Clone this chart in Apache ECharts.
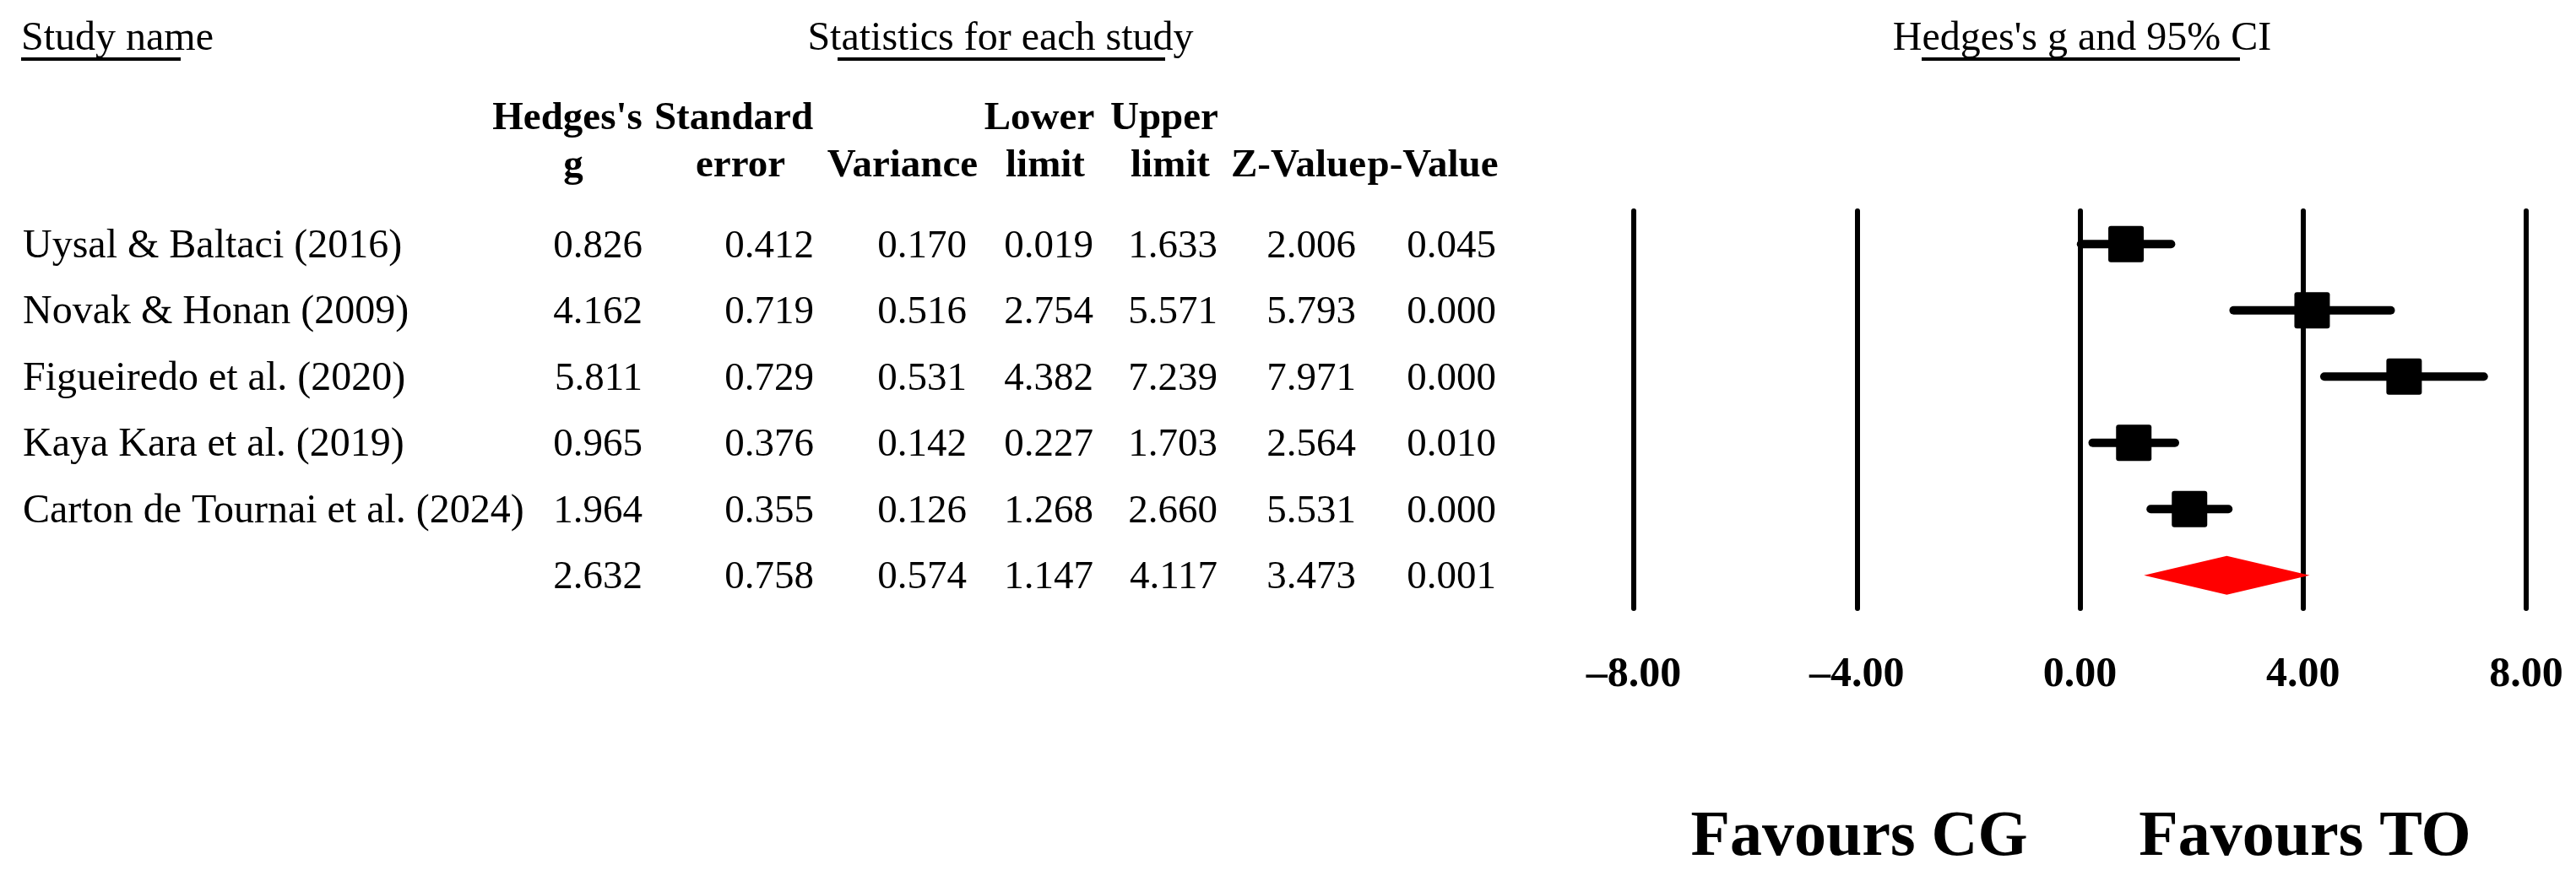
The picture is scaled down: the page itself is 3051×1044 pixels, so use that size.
<!DOCTYPE html>
<html>
<head>
<meta charset="utf-8">
<title>Hedges's g forest plot</title>
<script src="https://cdn.jsdelivr.net/npm/echarts@6/dist/echarts.min.js"></script>
<style>
  html, body { margin: 0; padding: 0; background: #ffffff; }
  #chart { width: 3051px; height: 1044px; }
</style>
</head>
<body>
<div id="chart"></div>
<script>
// data
const studyNames = [
  "Uysal & Baltaci (2016)",
  "Novak & Honan (2009)",
  "Figueiredo et al. (2020)",
  "Kaya Kara et al. (2019)",
  "Carton de Tournai et al. (2024)",
  ""
];
const hedgesG = [0.826, 4.162, 5.811, 0.965, 1.964, 2.632];
const stdError = [0.412, 0.719, 0.729, 0.376, 0.355, 0.758];
const variance = [0.170, 0.516, 0.531, 0.142, 0.126, 0.574];
const lowerLimit = [0.019, 2.754, 4.382, 0.227, 1.268, 1.147];
const upperLimit = [1.633, 5.571, 7.239, 1.703, 2.660, 4.117];
const zValue = [2.006, 5.793, 7.971, 2.564, 5.531, 3.473];
const pValue = [0.045, 0.000, 0.000, 0.010, 0.000, 0.001];
const isSummary = [0, 0, 0, 0, 0, 1];
const xTicks = [-8, -4, 0, 4, 8];

const SERIF = "'Liberation Serif', 'Times New Roman', serif";
const tableCols = [hedgesG, stdError, variance, lowerLimit, upperLimit, zValue, pValue];
const colRight = [761, 964, 1145, 1295, 1442, 1606, 1772];

const chart = echarts.init(document.getElementById("chart"));

const rows = studyNames.map((name, i) => [i, hedgesG[i], lowerLimit[i], upperLimit[i], isSummary[i]]);

function txt(text, x, y, opts) {
  return {
    type: "text",
    silent: true,
    style: Object.assign({
      text: text, x: x, y: y,
      fill: "#000",
      fontFamily: SERIF,
      fontSize: 48,
      align: "center",
      verticalAlign: "middle"
    }, opts || {})
  };
}
function uline(x1, x2, y) {
  return { type: "line", silent: true, shape: { x1: x1, y1: y, x2: x2, y2: y }, style: { stroke: "#000", lineWidth: 4 } };
}

const bold = { fontWeight: "bold", fontSize: 47 };

const option = {
  backgroundColor: "#ffffff",
  animation: false,
  grid: { left: 1935, right: 59, top: 250, bottom: 323 },
  xAxis: {
    type: "value",
    min: xTicks[0],
    max: xTicks[xTicks.length - 1],
    interval: xTicks[1] - xTicks[0],
    axisLine: { show: false },
    axisTick: { show: false },
    splitLine: { show: true, lineStyle: { color: "#000", width: 6, cap: "round" } },
    axisLabel: {
      margin: 54,
      color: "#000",
      fontFamily: SERIF,
      fontWeight: "bold",
      fontSize: 50,
      formatter: (v) => (v < 0 ? "\u2013" : "") + Math.abs(v).toFixed(2)
    }
  },
  yAxis: {
    type: "category",
    inverse: true,
    data: studyNames.map((n, i) => n || "summary" + i),
    show: false
  },
  graphic: [
    txt("Study name", 25, 46, { align: "left" }),
    txt("Statistics for each study", 1185, 46),
    txt("Hedges's g and 95% CI", 2466, 46),
    uline(25, 214, 70),
    uline(992, 1380, 70),
    uline(2276, 2653, 70),
    txt("Hedges's", 672, 141, bold),
    txt("Standard", 869, 141, bold),
    txt("Lower", 1231, 141, bold),
    txt("Upper", 1379, 141, bold),
    txt("g", 679, 197, bold),
    txt("error", 877, 197, bold),
    txt("Variance", 1069, 197, bold),
    txt("limit", 1238, 197, bold),
    txt("limit", 1386, 197, bold),
    txt("Z-Value", 1538, 197, bold),
    txt("p-Value", 1697, 197, bold),
    txt("Favours CG", 2202, 993, { fontWeight: "bold", fontSize: 76 }),
    txt("Favours TO", 2730, 993, { fontWeight: "bold", fontSize: 76 })
  ],
  series: [
    {
      name: "table",
      type: "custom",
      clip: false,
      silent: true,
      data: rows,
      encode: { x: 1, y: 0 },
      renderItem: (params, api) => {
        const i = api.value(0);
        const y = api.coord([0, i])[1] + 3;
        const children = [txt(studyNames[i], 27, y, { align: "left" })];
        tableCols.forEach((col, c) => {
          children.push(txt(col[i].toFixed(3), colRight[c], y, { align: "right", fontSize: 47 }));
        });
        return { type: "group", children: children };
      }
    },
    {
      name: "forest",
      type: "custom",
      clip: false,
      silent: true,
      data: rows,
      encode: { x: [1, 2, 3], y: 0 },
      renderItem: (params, api) => {
        const row = api.value(0);
        const pG = api.coord([api.value(1), row]);
        const pL = api.coord([api.value(2), row]);
        const pH = api.coord([api.value(3), row]);
        if (api.value(4)) {
          return {
            type: "polygon",
            shape: { points: [[pL[0], pL[1]], [pG[0], pG[1] - 23], [pH[0], pH[1]], [pG[0], pG[1] + 23]] },
            style: { fill: "#ff0000" }
          };
        }
        return {
          type: "group",
          children: [
            {
              type: "line",
              shape: { x1: pL[0], y1: pL[1], x2: pH[0], y2: pH[1] },
              style: { stroke: "#000", lineWidth: 10, lineCap: "round" }
            },
            {
              type: "rect",
              shape: { x: pG[0] - 21, y: pG[1] - 21.5, width: 42, height: 43, r: 3 },
              style: { fill: "#000" }
            }
          ]
        };
      }
    }
  ]
};

chart.setOption(option);
</script>
</body>
</html>
